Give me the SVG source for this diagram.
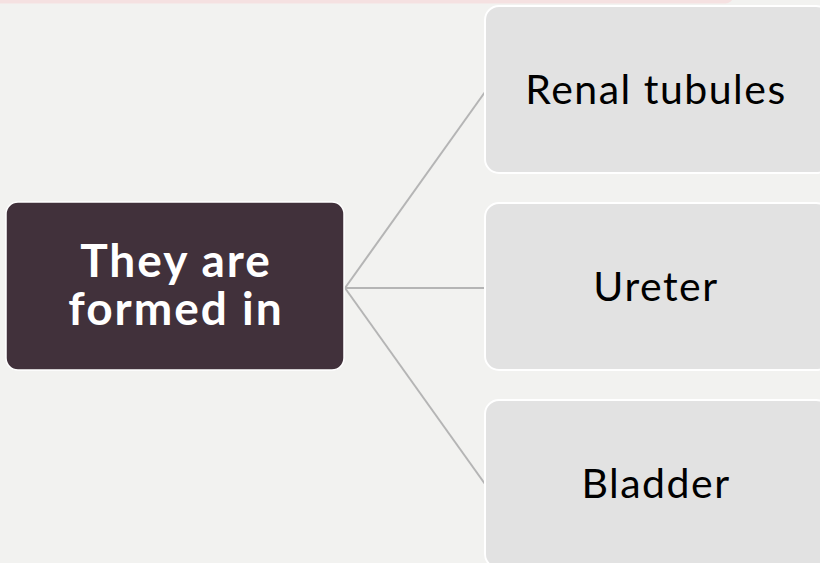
<svg xmlns="http://www.w3.org/2000/svg" width="820" height="563" viewBox="0 0 820 563">
<style>
.bg{fill:#f2f2f0}
.leaf rect{fill:#e2e2e2;stroke:#ffffff;stroke-width:2}
.leaf text{font-family:Lato,"Open Sans",sans-serif;font-size:41px;letter-spacing:1.5px;fill:#000000;text-anchor:middle}
.root rect{fill:#41313b;stroke:#ffffff;stroke-width:1.5}
.root text{font-family:Lato,"Open Sans",sans-serif;font-weight:bold;font-size:46px;letter-spacing:2px;fill:#ffffff;text-anchor:middle}
.conn line{stroke:#b5b5b5;stroke-width:2}
</style>
<rect class="bg" x="0" y="0" width="820" height="563"/>
<rect x="-20" y="-10" width="753" height="13.5" rx="8" fill="#f5e1e1"/>
<g class="conn" id="connectors">
<line x1="345" y1="288" x2="485" y2="92"/>
<line x1="345" y1="288" x2="485" y2="288"/>
<line x1="345" y1="288" x2="485" y2="484"/>
</g>
<g class="root" id="node-root">
<rect x="6" y="202" width="338" height="168" rx="12"/>
<text x="176" y="277">They are</text>
<text x="176" y="325">formed in</text>
</g>
<g class="leaf" id="node-renal">
<rect x="485" y="6" width="345" height="167" rx="14"/>
<text x="656" y="104">Renal tubules</text>
</g>
<g class="leaf" id="node-ureter">
<rect x="485" y="203" width="345" height="167" rx="14"/>
<text x="656" y="301">Ureter</text>
</g>
<g class="leaf" id="node-bladder">
<rect x="485" y="400" width="345" height="168" rx="14"/>
<text x="656" y="498">Bladder</text>
</g>
</svg>
